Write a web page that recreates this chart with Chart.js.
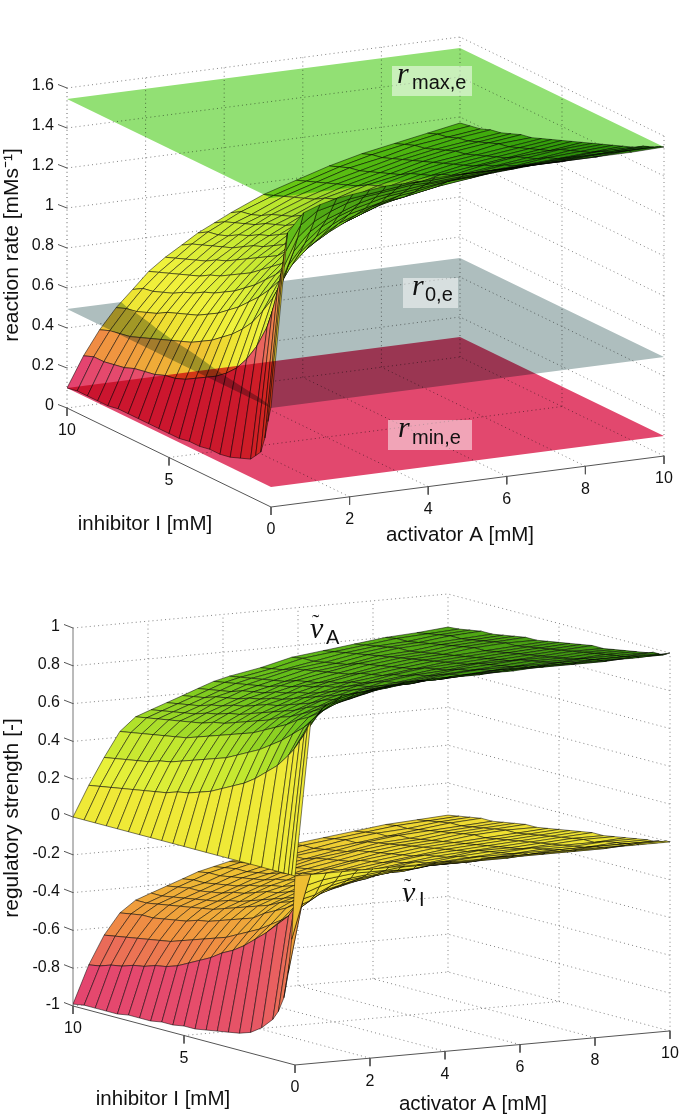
<!DOCTYPE html>
<html><head><meta charset="utf-8">
<style>html,body{margin:0;padding:0;background:#fff;overflow:hidden;width:685px;height:1118px}
#wrap{position:relative;width:685px;height:1118px;overflow:hidden}
canvas{position:absolute;left:0}</style>
<script src="https://cdn.jsdelivr.net/npm/chart.js@4"></script>
</head><body><div id="wrap"><canvas id="top" width="685" height="690" style="top:-100px"></canvas><canvas id="bottom" width="685" height="600" style="top:518px"></canvas></div>
<script>
// ---------- data ----------
const activatorA = [0,.42,.83,1.25,1.67,2.08,2.5,2.92,3.33,3.75,4.17,5,5.83,6.67,7.5,8.33,9.17,10];
const inhibitorI = [10,9.5,9,8.5,8,7.5,7,6.5,6,5.5,5,4.5,4,3.5,3,2.5,2,1.5,1,.75,.5,.3,.15,0];
const rateTicks = [0,.2,.4,.6,.8,1,1.2,1.4,1.6];
const strengthTicks = [-1,-.8,-.6,-.4,-.2,0,.2,.4,.6,.8,1];
const activatorTicks = [0,2,4,6,8,10];
const inhibitorTicks = [5,10];
const rMaxE = 1.545, r0E = .495, rMinE = .1;
// rows follow activatorA, columns follow inhibitorI
const reactionRate = [
[.10,.11,.11,.11,.11,.12,.12,.12,.12,.12,.12,.12,.13,.13,.14,.14,.15,.17,.19,.22,.25,.33,.42,.50],
[.25,.27,.27,.28,.29,.31,.32,.33,.35,.36,.38,.41,.44,.47,.51,.56,.63,.72,.84,.93,1.04,1.15,1.25,1.36],
[.37,.39,.40,.41,.43,.45,.47,.49,.51,.53,.56,.59,.63,.67,.72,.78,.86,.95,1.07,1.15,1.23,1.31,1.38,1.45],
[.47,.49,.50,.52,.54,.57,.59,.61,.63,.66,.69,.73,.77,.82,.87,.93,1.0,1.09,1.19,1.25,1.32,1.38,1.44,1.48],
[.55,.58,.59,.61,.63,.66,.68,.71,.73,.76,.79,.83,.87,.92,.97,1.03,1.10,1.17,1.26,1.32,1.37,1.42,1.46,1.50],
[.63,.65,.67,.69,.71,.73,.76,.78,.81,.84,.87,.91,.95,.99,1.04,1.10,1.16,1.23,1.31,1.36,1.40,1.45,1.48,1.51],
[.69,.71,.73,.75,.77,.80,.82,.85,.88,.91,.94,.97,1.02,1.06,1.10,1.15,1.21,1.28,1.35,1.39,1.43,1.47,1.49,1.52],
[.74,.77,.79,.81,.83,.85,.88,.91,.93,.96,.99,1.03,1.07,1.11,1.15,1.20,1.25,1.31,1.37,1.41,1.45,1.48,1.50,1.53],
[.79,.82,.83,.85,.88,.90,.93,.95,.98,1.01,1.04,1.07,1.11,1.15,1.19,1.23,1.28,1.34,1.39,1.43,1.46,1.49,1.51,1.53],
[.83,.86,.88,.90,.92,.95,.97,.99,1.02,1.05,1.08,1.11,1.14,1.18,1.22,1.26,1.31,1.36,1.41,1.44,1.47,1.50,1.52,1.53],
[.87,.90,.91,.93,.96,.98,1.0,1.03,1.05,1.08,1.11,1.14,1.17,1.21,1.25,1.29,1.33,1.37,1.42,1.45,1.48,1.50,1.52,1.54],
[.94,.96,.98,1.0,1.02,1.04,1.07,1.09,1.11,1.14,1.16,1.19,1.22,1.25,1.29,1.32,1.36,1.40,1.45,1.47,1.49,1.51,1.53,1.54],
[.99,1.01,1.03,1.05,1.07,1.09,1.11,1.14,1.16,1.18,1.21,1.23,1.26,1.29,1.32,1.35,1.39,1.42,1.46,1.48,1.50,1.52,1.53,1.54],
[1.04,1.06,1.08,1.09,1.11,1.13,1.15,1.17,1.20,1.22,1.24,1.27,1.29,1.32,1.35,1.38,1.41,1.44,1.47,1.49,1.51,1.52,1.53,1.54],
[1.08,1.10,1.11,1.13,1.15,1.17,1.19,1.21,1.23,1.25,1.27,1.29,1.32,1.34,1.37,1.39,1.42,1.45,1.48,1.50,1.51,1.52,1.53,1.54],
[1.11,1.13,1.15,1.16,1.18,1.20,1.22,1.23,1.25,1.27,1.29,1.31,1.34,1.36,1.38,1.41,1.43,1.46,1.49,1.50,1.52,1.53,1.53,1.54],
[1.14,1.16,1.17,1.19,1.20,1.22,1.24,1.26,1.27,1.29,1.31,1.33,1.35,1.38,1.40,1.42,1.44,1.47,1.49,1.51,1.52,1.53,1.54,1.54],
[1.17,1.18,1.19,1.21,1.22,1.24,1.26,1.27,1.29,1.31,1.33,1.35,1.37,1.39,1.41,1.43,1.45,1.47,1.50,1.51,1.52,1.53,1.54,1.545]];
const strengthA = [
[0,0,0,0,0,0,0,0,0,0,0,0,0,0,0,0,0,0,0,0,0,0,0,0],
[.16,.17,.18,.19,.20,.21,.22,.23,.25,.26,.28,.30,.33,.36,.39,.43,.48,.53,.60,.64,.69,.73,.77,.81],
[.30,.31,.32,.33,.34,.36,.37,.39,.41,.43,.45,.47,.50,.53,.56,.60,.64,.69,.74,.77,.81,.84,.87,.89],
[.43,.44,.45,.46,.47,.48,.49,.51,.53,.55,.57,.59,.61,.64,.67,.70,.74,.77,.81,.84,.87,.89,.91,.93],
[.50,.51,.52,.53,.54,.55,.56,.58,.59,.61,.63,.65,.67,.70,.72,.75,.78,.81,.85,.87,.89,.91,.93,.94],
[.53,.54,.55,.56,.57,.59,.60,.62,.63,.65,.67,.69,.71,.73,.76,.78,.81,.84,.87,.89,.91,.93,.94,.95],
[.56,.57,.58,.59,.61,.62,.64,.65,.67,.69,.70,.72,.74,.76,.79,.81,.83,.86,.89,.91,.93,.94,.95,.96],
[.59,.60,.61,.63,.64,.65,.67,.68,.70,.71,.73,.75,.77,.79,.81,.83,.85,.88,.91,.92,.94,.95,.96,.97],
[.62,.63,.64,.65,.67,.68,.69,.71,.72,.74,.75,.77,.79,.81,.83,.85,.87,.89,.92,.93,.94,.95,.96,.97],
[.65,.66,.67,.68,.69,.70,.72,.73,.75,.76,.78,.79,.81,.83,.84,.86,.88,.90,.93,.94,.95,.96,.97,.97],
[.67,.68,.69,.70,.71,.72,.74,.75,.76,.78,.79,.81,.82,.84,.86,.87,.89,.91,.93,.94,.95,.96,.97,.98],
[.70,.71,.72,.74,.75,.76,.77,.78,.79,.81,.82,.83,.85,.86,.88,.89,.91,.93,.94,.95,.96,.97,.97,.98],
[.74,.75,.75,.76,.77,.78,.80,.81,.82,.83,.84,.85,.87,.88,.89,.91,.92,.94,.95,.96,.97,.97,.98,.98],
[.76,.77,.78,.79,.80,.81,.82,.83,.84,.85,.86,.87,.88,.89,.91,.92,.93,.94,.96,.96,.97,.98,.98,.99],
[.78,.79,.80,.81,.82,.82,.83,.84,.85,.86,.87,.88,.89,.90,.91,.93,.94,.95,.96,.97,.97,.98,.98,.99],
[.80,.81,.81,.82,.83,.84,.85,.86,.87,.87,.88,.89,.90,.91,.92,.93,.94,.95,.97,.97,.98,.98,.98,.99],
[.81,.82,.83,.84,.84,.85,.86,.87,.88,.88,.89,.90,.91,.92,.93,.94,.95,.96,.97,.97,.98,.98,.99,.99],
[.825,.83,.84,.85,.85,.86,.87,.88,.88,.89,.90,.91,.92,.93,.93,.94,.95,.96,.97,.98,.98,.98,.99,1]];
const strengthI = [
[-.99,-.98,-.98,-.98,-.98,-.97,-.97,-.97,-.96,-.96,-.95,-.95,-.94,-.93,-.92,-.91,-.89,-.85,-.79,-.74,-.66,-.52,-.34,0],
[-.79,-.78,-.76,-.75,-.73,-.72,-.70,-.69,-.67,-.64,-.61,-.58,-.54,-.51,-.47,-.42,-.37,-.31,-.25,-.20,-.15,-.11,-.06,0],
[-.64,-.63,-.62,-.61,-.60,-.59,-.58,-.56,-.54,-.52,-.50,-.48,-.45,-.42,-.39,-.35,-.31,-.26,-.20,-.17,-.13,-.08,-.04,0],
[-.53,-.52,-.51,-.51,-.50,-.49,-.48,-.46,-.45,-.43,-.41,-.39,-.37,-.33,-.30,-.27,-.23,-.19,-.15,-.12,-.09,-.06,-.03,0],
[-.47,-.47,-.46,-.45,-.44,-.43,-.42,-.41,-.39,-.37,-.35,-.33,-.31,-.28,-.26,-.23,-.20,-.16,-.12,-.10,-.07,-.05,-.02,0],
[-.44,-.44,-.43,-.42,-.41,-.40,-.39,-.37,-.36,-.34,-.32,-.30,-.28,-.26,-.23,-.20,-.17,-.14,-.10,-.08,-.06,-.04,-.02,0],
[-.41,-.40,-.39,-.39,-.38,-.37,-.35,-.34,-.32,-.30,-.29,-.27,-.25,-.22,-.20,-.17,-.15,-.12,-.09,-.07,-.05,-.03,-.02,0],
[-.38,-.37,-.37,-.36,-.35,-.34,-.32,-.31,-.29,-.28,-.26,-.24,-.22,-.20,-.18,-.15,-.13,-.10,-.07,-.06,-.04,-.03,-.01,0],
[-.35,-.34,-.34,-.33,-.32,-.31,-.30,-.28,-.27,-.25,-.24,-.22,-.20,-.18,-.16,-.14,-.12,-.09,-.06,-.05,-.04,-.03,-.01,0],
[-.33,-.32,-.31,-.31,-.30,-.29,-.27,-.26,-.24,-.23,-.21,-.20,-.18,-.16,-.15,-.13,-.11,-.09,-.06,-.04,-.03,-.02,-.01,0],
[-.31,-.30,-.29,-.29,-.28,-.27,-.25,-.24,-.23,-.21,-.20,-.18,-.17,-.15,-.13,-.12,-.10,-.08,-.05,-.04,-.03,-.02,-.01,0],
[-.28,-.27,-.27,-.25,-.25,-.23,-.22,-.21,-.20,-.18,-.17,-.16,-.14,-.13,-.11,-.10,-.08,-.06,-.05,-.04,-.03,-.02,-.01,0],
[-.25,-.24,-.24,-.23,-.22,-.21,-.19,-.18,-.17,-.16,-.15,-.14,-.12,-.11,-.10,-.08,-.07,-.05,-.04,-.03,-.02,-.02,-.01,0],
[-.23,-.22,-.21,-.21,-.19,-.18,-.17,-.16,-.15,-.14,-.13,-.12,-.11,-.10,-.08,-.07,-.06,-.05,-.03,-.03,-.02,-.01,-.01,0],
[-.21,-.20,-.19,-.19,-.17,-.17,-.16,-.15,-.14,-.13,-.12,-.11,-.10,-.09,-.08,-.07,-.05,-.04,-.03,-.02,-.02,-.01,-.01,0],
[-.19,-.18,-.18,-.17,-.16,-.15,-.14,-.13,-.12,-.12,-.11,-.10,-.09,-.08,-.07,-.06,-.05,-.04,-.03,-.02,-.01,-.01,-.01,0],
[-.18,-.17,-.16,-.15,-.15,-.14,-.13,-.12,-.11,-.11,-.10,-.09,-.08,-.07,-.06,-.05,-.05,-.03,-.02,-.02,-.01,-.01,0,0],
[-.17,-.16,-.15,-.14,-.14,-.13,-.12,-.11,-.11,-.10,-.09,-.08,-.07,-.06,-.06,-.05,-.04,-.03,-.02,-.02,-.01,-.01,0,0]];

// ---------- styling and view geometry ----------
const colormap = [[0,228,68,112],[.1,234,105,90],[.2,240,145,65],[.33,238,190,50],[.45,238,226,50],[.56,240,242,60],[.7,185,230,45],[.85,100,190,25],[1,55,140,15]];
function cmap(t){t=Math.max(0,Math.min(1,t));
  for(let k=1;k<colormap.length;k++){const a=colormap[k-1],b=colormap[k];
    if(t<=b[0]){const f=(t-a[0])/(b[0]-a[0]);return `rgb(${[1,2,3].map(c=>Math.round(a[c]+(b[c]-a[c])*f)).join(',')})`;}}
  return 'rgb(55,140,15)';}
const SANS='"Liberation Sans",Arial,sans-serif', SERIF='"Liberation Serif",serif';
const viewTop={left:67,ox:271,ax:39.3,ix:-20.4,base:-.495,aRise:.0255,iRise:.0495,pxPerZ:200,zLow:0,zHigh:1.6,yAtZero:408,cssTop:-100,height:690,labelShift:-2};
const viewBot={left:73,ox:295,ax:37.5,ix:-22.2,base:-.312,aRise:.018,iRise:.0312,pxPerZ:189,zLow:-1,zHigh:1,yAtZero:817,cssTop:518,height:600,labelShift:-1};
const P=(v,A,I,z)=>({x:v.ox+v.ax*A+v.ix*I,y:z+v.base+v.aRise*A+v.iRise*I});
const poly=(pts,fill,stroke,bw,blend)=>({data:[...pts,pts[0]],showLine:true,fill:'shape',backgroundColor:fill,borderColor:stroke||'rgba(0,0,0,0)',borderWidth:bw||0,pointRadius:0,tension:0,blend});
const line=(pts,color,bw,dash,noClip)=>({data:pts,showLine:true,fill:false,borderColor:color,borderWidth:bw,borderDash:dash||[],pointRadius:0,tension:0,clip:noClip?false:undefined});
const GRID='rgba(60,60,60,.8)', DASH=[1,3.2];

function frame(v,zTicks){
  const out=[];
  zTicks.forEach(z=>out.push(line([P(v,0,10,z),P(v,10,10,z),P(v,10,0,z)],GRID,.8,DASH)));
  activatorTicks.filter(a=>a>0).forEach(a=>out.push(line([P(v,a,10,v.zLow),P(v,a,10,v.zHigh)],GRID,.8,DASH)));
  [0,5].forEach(i=>out.push(line([P(v,10,i,v.zLow),P(v,10,i,v.zHigh)],GRID,.8,DASH)));
  activatorTicks.filter(a=>a>0&&a<10).forEach(a=>out.push(line([P(v,a,0,v.zLow),P(v,a,10,v.zLow)],GRID,.8,DASH)));
  out.push(line([P(v,0,5,v.zLow),P(v,10,5,v.zLow)],GRID,.8,DASH));
  return out;
}
function axes(v,zTicks,solidAxis){
  const out=[],C='#555',dz=8/v.pxPerZ;
  out.push(line([P(v,0,10,v.zLow),P(v,0,10,v.zHigh)],solidAxis?'#777':GRID,1,solidAxis?[]:DASH,true));
  out.push(line([P(v,0,10,v.zLow),P(v,0,0,v.zLow),P(v,10,0,v.zLow)],C,1,[],true));
  activatorTicks.forEach(a=>{const p=P(v,a,0,v.zLow);out.push(line([p,{x:p.x,y:p.y-dz}],C,1,[],true));});
  inhibitorTicks.forEach(i=>{const p=P(v,0,i,v.zLow);out.push(line([p,{x:p.x,y:p.y-dz}],C,1,[],true));});
  zTicks.forEach(z=>{const p=P(v,0,10,z);out.push(line([p,{x:p.x-9,y:p.y+3.5/v.pxPerZ}],C,1,[],true));});
  return out;
}
function surface(v,table,toT){
  const out=[];
  for(let i=0;i<inhibitorI.length-1;i++){
    for(let j=activatorA.length-2;j>=0;j--){
      const a0=activatorA[j],a1=activatorA[j+1],i0=inhibitorI[i],i1=inhibitorI[i+1];
      out.push(poly([P(v,a0,i0,table[j][i]),P(v,a1,i0,table[j+1][i]),P(v,a1,i1,table[j+1][i+1]),P(v,a0,i1,table[j][i+1])],
        cmap(toT(table[j][i])),'rgba(0,0,0,.78)',.65));
    }
  }
  return out;
}
const contour=inhibitorI.map((I,i)=>{
  for(let j=0;j<activatorA.length;j++){const z=reactionRate[j][i];
    if(z>=r0E){if(j===0)return 0;const p=reactionRate[j-1][i];return activatorA[j-1]+(activatorA[j]-activatorA[j-1])*(r0E-p)/(z-p);}}
  return 10;});
const rateT=z=>z<=.5?(z-.1)/.4*.5:.5+(z-.5)/1.05*.5;
const strengthT=z=>(z+1)/2;
const GREY='rgb(174,190,190)',GREEN='rgb(146,224,116)',RED='rgb(226,72,110)';
const contourPts=inhibitorI.map((I,i)=>P(viewTop,contour[i],I,r0E));

const topDraw=[
  ...frame(viewTop,rateTicks),
  poly([...contourPts,P(viewTop,10,0,r0E),P(viewTop,10,10,r0E)],GREY,null,0,'multiply'),
  ...axes(viewTop,rateTicks,false),
  ...surface(viewTop,reactionRate,rateT),
  poly([P(viewTop,0,10,r0E),...contourPts,P(viewTop,0,0,r0E)],GREY,null,0,'multiply'),
  poly([P(viewTop,0,0,rMaxE),P(viewTop,10,0,rMaxE),P(viewTop,10,10,rMaxE),P(viewTop,0,10,rMaxE)],GREEN,null,0,'multiply'),
  poly([P(viewTop,0,0,rMinE),P(viewTop,10,0,rMinE),P(viewTop,10,10,rMinE),P(viewTop,0,10,rMinE)],RED,null,0,'multiply')
];
const botDraw=[
  ...frame(viewBot,strengthTicks),
  ...axes(viewBot,strengthTicks,true),
  ...surface(viewBot,strengthI,strengthT),
  ...surface(viewBot,strengthA,strengthT)
];

const texts={
 top:{
  tickDy:23,
  axisTitles:[['inhibitor I [mM]',145,524],['activator A [mM]',460,535]],
  boxes:[[392,66,80,30],[403,278,55,30],[388,420,84,30]],
  math:[['r',397,83,'max,e',412,89,false],['r',412,295,'0,e',425,301,false],['r',398,437,'min,e',412,444,false]]
 },
 bottom:{
  tickDy:23,
  axisTitles:[['inhibitor I [mM]',163,1099],['activator A [mM]',473,1104]],
  boxes:[],
  math:[['ν',310,638,'A',326,644,true],['ν',402,902,'I',419,906,true]]
 }
};

function makeChart(id,v,draw,zTicks,title,tx){
  const blendPlugin={id:'blend',
    beforeDatasetsDraw(c){const d=c.data.datasets;c.ctx.globalCompositeOperation=d[d.length-1].blend||'source-over';},
    afterDatasetDraw(c,a){const n=c.data.datasets[a.index-1];c.ctx.globalCompositeOperation=(n&&n.blend)||'source-over';},
    afterDatasetsDraw(c){
      const g=c.ctx,xs=c.scales.x,ys=c.scales.y;
      g.save();g.globalCompositeOperation='source-over';g.fillStyle='#111';g.textAlign='center';g.textBaseline='middle';
      g.font='16px '+SANS;
      activatorTicks.forEach(a=>{const p=P(v,a,0,v.zLow);g.fillText(String(a),xs.getPixelForValue(p.x),ys.getPixelForValue(p.y)+tx.tickDy);});
      inhibitorTicks.forEach(i=>{const p=P(v,0,i,v.zLow);g.fillText(String(i),xs.getPixelForValue(p.x),ys.getPixelForValue(p.y)+tx.tickDy);});
      g.font='20.5px '+SANS;
      tx.axisTitles.forEach(t=>g.fillText(t[0],t[1],t[2]-v.cssTop));
      tx.boxes.forEach(b=>{g.fillStyle='rgba(255,255,255,.5)';g.fillRect(b[0],b[1]-v.cssTop,b[2],b[3]);});
      g.fillStyle='#111';g.textAlign='left';g.textBaseline='alphabetic';
      tx.math.forEach(m=>{g.font='italic 30px '+SERIF;g.fillText(m[0],m[1],m[2]-v.cssTop);
        if(m[6]){g.font='22px '+SERIF;g.fillText('˜',m[1]+2,m[2]-v.cssTop-9);}
        g.font='20px '+SANS;g.fillText(m[3],m[4],m[5]-v.cssTop);});
      g.restore();
    }};
  const yMax=v.yAtZero/v.pxPerZ-v.cssTop/v.pxPerZ, yMin=yMax-v.height/v.pxPerZ;
  return new Chart(document.getElementById(id),{
    type:'scatter',
    data:{datasets:[...draw].reverse()},
    plugins:[blendPlugin],
    options:{responsive:false,animation:false,devicePixelRatio:1,events:[],
      layout:{padding:0},
      plugins:{legend:{display:false},tooltip:{enabled:false},title:{display:false}},
      scales:{
        x:{type:'linear',display:false,bounds:'data',min:v.left,max:685},
        y:{type:'linear',position:'left',bounds:'data',min:yMin,max:yMax,
          afterBuildTicks(s){s.ticks=zTicks.map(t=>({value:t}));},
          afterFit(s){s.width=v.left;s.paddingTop=0;s.paddingBottom=0;},
          grid:{display:false,drawTicks:false},border:{display:false},
          title:{display:true,text:title,color:'#111',font:{family:SANS,size:21},padding:0},
          ticks:{autoSkip:false,maxRotation:0,padding:13,labelOffset:v.labelShift,color:'#111',font:{family:SANS,size:16},callback:t=>String(t)}}
      }}
  });
}
makeChart('top',viewTop,topDraw,rateTicks,'reaction rate [mMs⁻¹]',texts.top);
makeChart('bottom',viewBot,botDraw,strengthTicks,'regulatory strength [-]',texts.bottom);
</script></body></html>
